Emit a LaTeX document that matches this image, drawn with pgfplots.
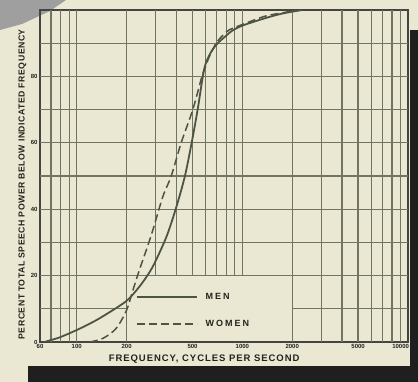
\documentclass[border=0pt]{standalone}
\usepackage{pgfplots}
\pgfplotsset{compat=1.18}
\usepackage{fontspec}
\setmainfont{Liberation Sans}
\newfontfamily\xlabfont[LetterSpace=10]{Liberation Sans}
\newfontfamily\ylabfont[LetterSpace=6]{Liberation Sans}
\newfontfamily\legfont[LetterSpace=22]{Liberation Sans}
\definecolor{paper}{RGB}{234,231,211}
\definecolor{gridc}{RGB}{112,116,98}
\definecolor{ink}{RGB}{78,84,68}
\definecolor{txt}{RGB}{35,36,30}
\begin{document}
\begin{tikzpicture}[x=1pt,y=1pt]
\path[use as bounding box] (0,0) rectangle (418,382);
\fill[paper] (0,0) rectangle (418,382);
\fill[black!88] (410,0) rectangle (418,352);
\fill[black!88] (28,0) rectangle (418,16);
\fill[gray!75] (0,382) -- (66,382) -- (50,371) -- (22,358) -- (0,352) -- cycle;
\begin{axis}[
  at={(40pt,40pt)}, anchor=south west,
  scale only axis, width=368pt, height=332pt,
  xmode=log, xmin=60, xmax=10000, ymin=0, ymax=100,
  xtick={60,100,200,500,1000,2000,5000,10000},
  xticklabels={60,100,200,500,1000,2000,5000,{\hbox to 0pt{\hss 10000\hskip-1pt}}},
  ytick={0,20,40,60,80},
  yticklabels={0,20,40,60,80},
  major tick length=0pt, minor tick length=0pt,
  axis line style={txt!85, line width=1.7pt},
  ticklabel style={font=\fontsize{6}{6}\selectfont\bfseries, text=txt},
  yticklabel style={xshift=1pt},
  xticklabel style={yshift=1.5pt},
  xlabel={FREQUENCY, CYCLES PER SECOND},
  xlabel style={at={(axis description cs:0.446,-0.051)}, anchor=center, font=\xlabfont\fontsize{9.5}{10}\selectfont\bfseries, text=txt},
  ylabel={PERCENT TOTAL SPEECH POWER BELOW INDICATED FREQUENCY},
  ylabel style={at={(axis description cs:-0.048,0.475)}, anchor=center, font=\ylabfont\fontsize{8.7}{9}\selectfont\bfseries, text=txt},
  legend style={draw=none, fill=none, at={(rel axis cs:0.26,0.153)}, anchor=north west, font=\legfont\fontsize{9}{10}\selectfont\bfseries, text=txt, row sep=15pt, inner sep=0pt, column sep=6pt},
  legend cell align=left,
  legend image code/.code={\draw[#1] (0pt,0pt) -- (60pt,0pt);},
]
% grid lines (the region below 20 % between 200 and 2000 Hz is left blank for the legend)
\pgfplotsinvokeforeach{70,80,90,100,200,2000,3000,4000,5000,6000,7000,8000,9000}{
  \draw[gridc, line width=1.3pt] (axis cs:#1,0) -- (axis cs:#1,100);
}
\pgfplotsinvokeforeach{300,400,500,600,700,800,900,1000}{
  \draw[gridc, line width=1.3pt] (axis cs:#1,20) -- (axis cs:#1,100);
}
\pgfplotsinvokeforeach{20,30,40,50,60,70,80,90}{
  \draw[gridc, line width=1.3pt] (axis cs:60,#1) -- (axis cs:10000,#1);
}
\draw[gridc, line width=1.3pt] (axis cs:60,10) -- (axis cs:200,10);
\draw[gridc, line width=1.3pt] (axis cs:2000,10) -- (axis cs:10000,10);
\addplot[ink, line width=1.8pt, smooth, tension=0.5] coordinates {
(64,0) (70,0.6) (79,1.4) (100,3.6) (125,6.0) (150,8.3) (200,12.4) (240,16.8)
(275,21) (300,24.5) (350,32) (400,40.8) (450,50) (494,60) (537,70) (577,80)
(602,84) (650,87.5) (710,90) (800,92.3) (870,93.8) (1000,95.3) (1325,97.3)
(1665,98.7) (2000,99.5) (2300,100)
};
\addlegendentry{MEN}
\addplot[ink, line width=1.5pt, dash pattern=on 8pt off 4pt, smooth, tension=0.5] coordinates {
(120,0) (144,1.1) (173,4.1) (200,9.6) (218,15.5) (240,22) (263,27.7) (288,33.7)
(331,43.8) (372,50) (427,60) (502,70) (570,80) (600,83) (632,86) (694,90)
(760,92.3) (832,94) (1047,96) (1386,98.2) (1820,99.3) (2100,100)
};
\addlegendentry{WOMEN}
\end{axis}
\end{tikzpicture}
\end{document}
